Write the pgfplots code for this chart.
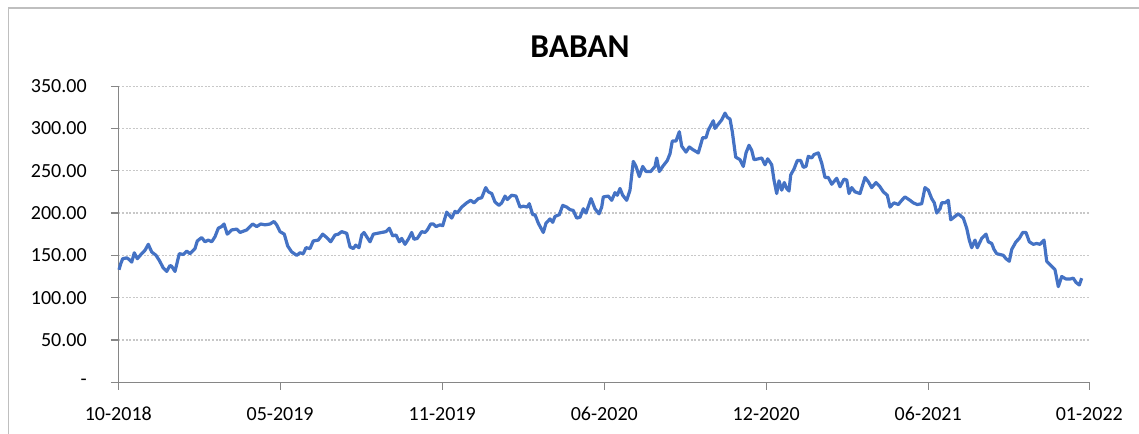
\documentclass[border=0pt]{standalone}
\usepackage{pgfplots}
\pgfplotsset{compat=1.18}
\usepackage{fontspec}
\setmainfont{Carlito}
\definecolor{serie}{HTML}{4472C4}
\definecolor{axisgray}{HTML}{868686}
\definecolor{gridgray}{HTML}{C8C8C8}
\definecolor{bordergray}{HTML}{BFBFBF}
\begin{document}
\begin{tikzpicture}
\useasboundingbox (0,0) rectangle (854.25pt,324.75pt);
\draw[bordergray, line width=1.1pt] (6.4pt,-2pt) -- (6.4pt,318.75pt) -- (860pt,318.75pt);
\node[font=\fontsize{25}{30}\selectfont\bfseries] at (435pt,289.5pt) {BABAN};
\begin{axis}[
  at={(88.725pt,38.025pt)}, anchor=south west,
  scale only axis, width=728.25pt, height=222.2pt,
  xmin=118.3, xmax=1089.3, ymin=0, ymax=350,
  axis x line*=bottom, axis y line*=left,
  axis line style={axisgray, line width=1pt},
  xtick={118.3,280.1,442.2,604.3,766.2,928.2,1089.3},
  xticklabels={10-2018,05-2019,11-2019,06-2020,12-2020,06-2021,01-2022},
  ytick={0,50,...,350},
  yticklabels={-\hspace{7.5pt},50.00,100.00,150.00,200.00,250.00,300.00,350.00},
  tick align=outside, major tick length=5.5pt,
  tick style={axisgray, line width=0.8pt},
  ymajorgrids, xmajorgrids=false,
  major grid style={gridgray, line width=0.8pt, dash pattern=on 1.5pt off 1.2pt},
  tick label style={font=\fontsize{15}{18}\selectfont},
  /pgf/number format/assume math mode=true,
  yticklabel style={anchor=east, inner sep=0pt, xshift=-18pt},
  xticklabel style={anchor=north, inner sep=0pt, yshift=-13pt},
  clip=false,
]
\addplot[serie, line width=2.4pt, line join=round] coordinates {
(119.0,133)(120.7,140)(122.7,146)(126.7,147)(129.3,145)(131.7,142)(134.3,153)(137.3,146)
(141.7,152)(145.0,156)(148.3,163)(151.7,154)(156.0,150)(159.3,144)(163.3,135)(166.7,131)
(170.0,138)(171.7,137)(175.0,131)(179.3,152)(183.3,151)(186.7,155)(190.0,152)(195.0,158)
(197.3,167)(201.7,171)(205.0,166)(208.3,168)(211.7,166)(215.0,172)(218.3,182)(221.7,184)
(224.0,187)(227.3,175)(231.7,180)(236.7,181)(240.0,177)(246.7,180)(250.0,184)(252.7,187)
(256.7,184)(260.7,187)(265.0,186)(270.0,187)(274.0,190)(276.7,186)(280.0,178)(284.3,175)
(287.7,161)(291.7,154)(296.7,150)(300.0,153)(303.3,152)(306.0,159)(310.0,158)(313.3,167)
(318.3,168)(322.7,175)(326.7,171)(330.7,166)(335.0,174)(338.3,175)(341.7,178)(346.7,176)
(350.0,160)(353.3,158)(355.7,162)(359.0,159)(361.7,174)(364.0,177)(366.7,172)(370.0,166)
(373.3,175)(377.3,176)(381.7,177)(386.0,178)(389.3,182)(392.7,173)(396.0,174)(399.3,166)
(401.7,170)(405.0,163)(408.3,169)(411.7,177)(414.0,169)(417.3,170)(421.7,178)(425.0,177)
(427.3,180)(430.7,187)(433.3,187)(436.0,184)(440.0,186)
(442.7,185)(446.7,201)(451.7,194)(455.0,202)(457.3,200)(461.7,207)(466.7,212)(470.7,215)
(474.0,212)(478.3,217)(481.7,218)(485.7,230)(488.3,225)(491.7,223)(495.0,213)(499.0,209)
(501.7,212)(505.0,220)(507.3,216)(511.7,221)(516.0,220)(520.0,207)(523.3,208)(527.3,207)
(529.3,211)(532.7,198)(535.0,198)(538.3,188)(543.3,177)(546.0,188)(550.0,193)(552.7,189)
(555.0,196)(559.3,198)(562.7,209)(566.7,207)(570.0,204)(573.3,203)(576.7,194)(580.0,195)
(583.3,205)(586.0,200)(591.0,217)(595.0,205)(599.0,199)(601.7,207)(603.3,219)(608.3,220)
(611.7,215)(615.0,224)(617.3,221)(620.0,229)(622.7,221)(626.7,215)(630.0,227)(633.3,261)
(636.0,255)(639.3,243)(642.7,255)(646.0,249)(650.7,249)(655.0,255)(656.7,265)(659.3,249)
(662.7,255)(667.3,262)(670.0,270)(672.3,285)(676.0,285)(679.3,296)(681.7,279)(686.0,272)
(689.3,278)(692.7,275)(698.3,271)(702.7,289)(706.0,289)(708.3,298)(713.3,309)(715.0,300)
(718.3,305)(721.7,310)(725.0,318)(727.3,313)(730.0,311)(732.3,296)(735.7,266)(740.0,263)
(743.3,255)(746.0,271)(749.0,280)(751.7,274)(754.0,263)(758.3,264)
(761.7,265)(765.0,257)(767.7,264)(771.7,257)(774.0,239)(776.7,223)(779.0,238)(781.7,227)
(784.3,236)(786.7,229)(789.0,226)(790.7,245)(794.0,252)(797.3,262)(800.7,262)(803.3,254)
(806.0,255)(808.3,267)(811.7,265)(814.0,269)(818.3,271)(821.7,259)(825.0,242)(828.3,242)
(831.7,234)(836.7,241)(840.0,231)(844.0,240)(846.7,239)(849.0,223)(851.7,230)(855.0,225)
(860.0,223)(865.0,242)(868.3,237)(871.7,230)(876.0,236)(880.0,231)(883.3,225)(887.3,221)
(890.0,207)(894.0,212)(898.3,210)(901.7,215)(905.0,219)(910.0,215)(913.3,212)(917.3,210)
(921.7,211)(925.0,230)(928.3,227)(931.7,217)(934.3,212)(936.7,200)(940.0,205)(941.7,212)
(945.0,212)(948.3,215)(950.7,192)(955.0,196)(958.3,199)(963.3,194)(966.7,182)(969.3,168)
(971.7,159)(975.0,168)(977.3,159)(981.7,170)(986.0,175)(988.3,166)(991.7,164)(994.0,157)
(996.7,152)(1000.0,151)(1003.3,150)(1006.0,146)(1009.3,143)(1011.7,157)(1016.0,166)(1019.3,170)
(1022.7,177)(1026.0,177)(1029.3,166)(1033.3,163)(1036.7,164)(1040.0,163)(1044.0,168)(1046.7,143)
(1051.7,137)(1055.0,133)(1058.3,113)(1061.7,125)(1066.0,122)(1070.0,122)(1073.3,123)(1076.0,118)
(1079.3,115)(1081.7,123)
};
\end{axis}
\end{tikzpicture}
\end{document}
